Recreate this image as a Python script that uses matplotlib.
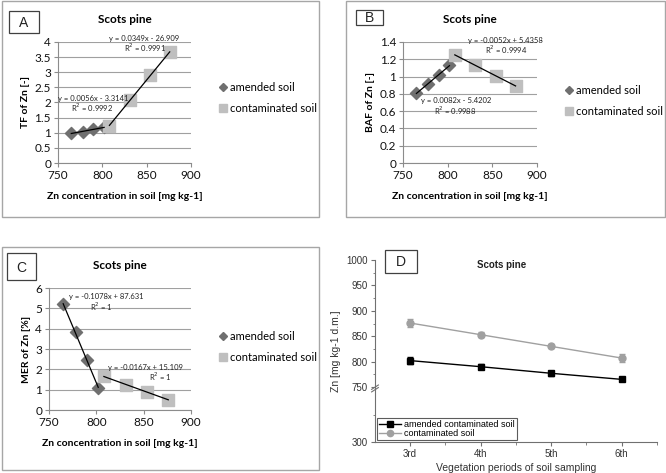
import numpy as np
import matplotlib
matplotlib.use('Agg')
import matplotlib.pyplot as plt
from matplotlib.patches import Rectangle
from matplotlib.lines import Line2D

# data
amended_x = [765, 778, 790, 802]
contam_x = [808, 831, 854, 876]

tf_amended = [0.98, 1.04, 1.11, 1.18]
tf_contam = [1.23, 2.08, 2.9, 3.66]

baf_amended = [0.81, 0.91, 1.02, 1.13]
baf_contam = [1.25, 1.13, 1.01, 0.89]

mer_amended = [5.2, 3.82, 2.45, 1.1]
mer_contam = [1.65, 1.25, 0.88, 0.5]

periods = ['3rd', '4th', '5th', '6th']
zn_amended = [802, 790, 777, 765]
zn_amended_err = [7, 5, 5, 4]
zn_contam = [876, 853, 830, 807]
zn_contam_err = [8, 5, 4, 8]

W, H = 666, 473
fig = plt.figure(figsize=(W / 100, H / 100), dpi=100)
plt.rcParams['font.family'] = ['Lato', 'DejaVu Sans']


def rect(x0, y0, x1, y1):
    return [x0 / W, 1 - y1 / H, (x1 - x0) / W, (y1 - y0) / H]


def fig_box(x0, y0, x1, y1, color='#a6a6a6', lw=1.0):
    fig.patches.append(Rectangle((x0 / W, 1 - y1 / H), (x1 - x0) / W, (y1 - y0) / H,
                                 transform=fig.transFigure, fill=False,
                                 edgecolor=color, linewidth=lw))


def ftext(x, y, s, **kw):
    fig.text(x / W, 1 - y / H, s, **kw)


def excel_panel(box, axrect, label, labelbox, ya, yb, yc, ylim, yticks, ylabel,
                legpos, eqs):
    fig_box(*box)
    fig_box(*labelbox, color='#404040', lw=0.9)
    ftext((labelbox[0] + labelbox[2]) / 2, (labelbox[1] + labelbox[3]) / 2 + 1, label,
          ha='center', va='center', fontsize=10, color='#222222',
          family=['Liberation Sans', 'DejaVu Sans'])
    ax = fig.add_axes(rect(*axrect))
    ax.scatter(amended_x, ya, marker='D', s=38, color='#6f6f6f', zorder=3)
    ax.scatter(contam_x, yb, marker='s', s=70, color='#bfbfbf', zorder=3)
    for xs, ys in ((amended_x, ya), (contam_x, yb)):
        k, b = np.polyfit(xs, ys, 1)
        xx = np.array([min(xs), max(xs)])
        ax.plot(xx, k * xx + b, color='black', lw=0.9, zorder=4)
    ax.set_xlim(750, 900)
    ax.set_xticks([750, 800, 850, 900])
    ax.set_ylim(*ylim)
    ax.set_yticks(yticks)
    ax.set_yticklabels([('%g' % t) for t in yticks])
    ax.yaxis.grid(True, color='#a0a0a0', lw=0.8)
    ax.set_axisbelow(True)
    for s in ('top', 'right'):
        ax.spines[s].set_visible(False)
    for s in ('left', 'bottom'):
        ax.spines[s].set_color('#8c8c8c')
    ax.tick_params(axis='both', labelsize=8.5, colors='#8c8c8c', labelcolor='#111111',
                   length=3, width=0.8, pad=2)
    ax.set_ylabel(ylabel, fontsize=7.5, fontweight='bold', labelpad=3)
    ax.set_xlabel('Zn concentration in soil [mg kg-1]', fontsize=7.5,
                  fontweight='bold', labelpad=8)
    ax.set_title('Scots pine', fontsize=8.5, fontweight='bold', pad=yc)
    handles = [Line2D([], [], ls='none', marker='D', ms=4.5, color='#6f6f6f'),
               Line2D([], [], ls='none', marker='s', ms=6, color='#bfbfbf')]
    ax.legend(handles, ['amended soil', 'contaminated soil'], loc='center left',
              bbox_to_anchor=(legpos[0] / W, 1 - legpos[1] / H),
              bbox_transform=fig.transFigure, frameon=False, fontsize=8,
              handletextpad=0.2, handlelength=0.8, labelspacing=0.85, borderpad=0)
    for x, y, s in eqs:
        ftext(x, y, s, ha='center', va='center', fontsize=5.5, color='#222222')
    return ax


excel_panel((2, 1, 319, 217), (58, 42, 191, 163), 'A', (9, 11, 39, 33),
            tf_amended, tf_contam, 14, (0, 4), np.arange(0, 4.01, 0.5), 'TF of Zn [-]',
            (213, 98),
            [(144, 38, 'y = 0.0349x - 26.909'), (145, 48, 'R$^2$ = 0.9991'),
             (93, 98, 'y = 0.0056x - 3.3141'), (92, 108, 'R$^2$ = 0.9992')])

excel_panel((346, 1, 665, 217), (403, 42, 537, 163), 'B', (356, 10, 383, 25),
            baf_amended, baf_contam, 14, (0, 1.4), np.arange(0, 1.41, 0.2),
            'BAF of Zn [-]', (559, 101),
            [(505, 40, 'y = -0.0052x + 5.4358'), (506, 50, 'R$^2$ = 0.9994'),
             (456, 101, 'y = 0.0082x - 5.4202'), (455, 111, 'R$^2$ = 0.9988')])

excel_panel((2, 247, 319, 470), (49, 288, 191, 410), 'C', (7, 253, 36, 280),
            mer_amended, mer_contam, 14, (0, 6), np.arange(0, 6.01, 1), 'MER of Zn [%]',
            (213, 347),
            [(106, 297, 'y = -0.1078x + 87.631'), (101, 307, 'R$^2$ = 1'),
             (145, 367, 'y = -0.0167x + 15.109'), (160, 377, 'R$^2$ = 1')])

# panel D with broken y axis (300-750 compressed)
low_frac = 55 / 182.0


def fwd(y):
    y = np.asarray(y, dtype=float)
    return np.where(y < 750, (y - 300) / 450 * low_frac,
                    low_frac + (y - 750) / 250 * (1 - low_frac))


def inv(v):
    v = np.asarray(v, dtype=float)
    return np.where(v < low_frac, 300 + v / low_frac * 450,
                    750 + (v - low_frac) / (1 - low_frac) * 250)


axd = fig.add_axes(rect(375, 260, 657, 442))
axd.set_yscale('function', functions=(fwd, inv))
xpos = np.arange(len(periods))
axd.errorbar(xpos, zn_contam, yerr=zn_contam_err, color='#a0a0a0', marker='o', ms=5,
             lw=1.0, capsize=2, elinewidth=0.8, zorder=3)
axd.errorbar(xpos, zn_amended, yerr=zn_amended_err, color='black', marker='s', ms=5,
             lw=1.0, capsize=2, elinewidth=0.8, zorder=4)
axd.set_ylim(300, 1000)
axd.set_yticks([300, 750, 800, 850, 900, 950, 1000])
axd.set_yticks([525, 775, 825, 875, 925, 975], minor=True)
axd.set_xlim(-0.495, 3.5)
axd.set_xticks(xpos)
axd.set_xticks(xpos + 0.5, minor=True)
axd.set_xticklabels(periods)
for s in ('top', 'right'):
    axd.spines[s].set_visible(False)
for s in ('left', 'bottom'):
    axd.spines[s].set_color('#707070')
dfont = ['Liberation Sans', 'DejaVu Sans']
axd.tick_params(axis='both', labelsize=7, colors='#707070', labelcolor='#333333',
                length=3, width=0.8, pad=2)
axd.tick_params(axis='both', which='minor', colors='#707070', length=1.8, width=0.6)
for lab in axd.get_xticklabels() + axd.get_yticklabels():
    lab.set_family(dfont)
axd.set_ylabel('Zn [mg kg-1 d.m.]', fontsize=7.5, family=dfont, color='#333333', labelpad=4)
axd.set_xlabel('Vegetation periods of soil sampling', fontsize=7.5, family=dfont,
               color='#333333', labelpad=3)
ftext(502, 265, 'Scots pine', ha='center', va='center', fontsize=7, fontweight='bold',
      family=dfont, color='#222222')
# break marks on the y axis
for dy in (-0.004, 0.010):
    yb = (442 - 389) / 182.0 + dy
    axd.plot([-0.012, 0.012], [yb - 0.012, yb + 0.012], transform=axd.transAxes,
             color='#707070', lw=0.8, clip_on=False)
dhandles = [Line2D([], [], color='black', marker='s', ms=4.5, lw=1.0),
            Line2D([], [], color='#a0a0a0', marker='o', ms=4.5, lw=1.0)]
leg = axd.legend(dhandles, ['amended contaminated soil', 'contaminated soil'],
                 loc='upper left',
                 bbox_to_anchor=(377 / W, 1 - 418 / H), bbox_transform=fig.transFigure,
                 frameon=True, fancybox=False, edgecolor='#333333', borderaxespad=0,
                 borderpad=0.2, labelspacing=0.05, handlelength=2.5, handletextpad=0.3,
                 prop={'family': dfont, 'size': 6.5})
leg.get_frame().set_linewidth(0.8)
fig_box(385, 250, 417, 273, color='#404040', lw=0.9)
ftext(401, 262, 'D', ha='center', va='center', fontsize=10, color='#222222', family=dfont)

fig.savefig('out.png', dpi=100)
